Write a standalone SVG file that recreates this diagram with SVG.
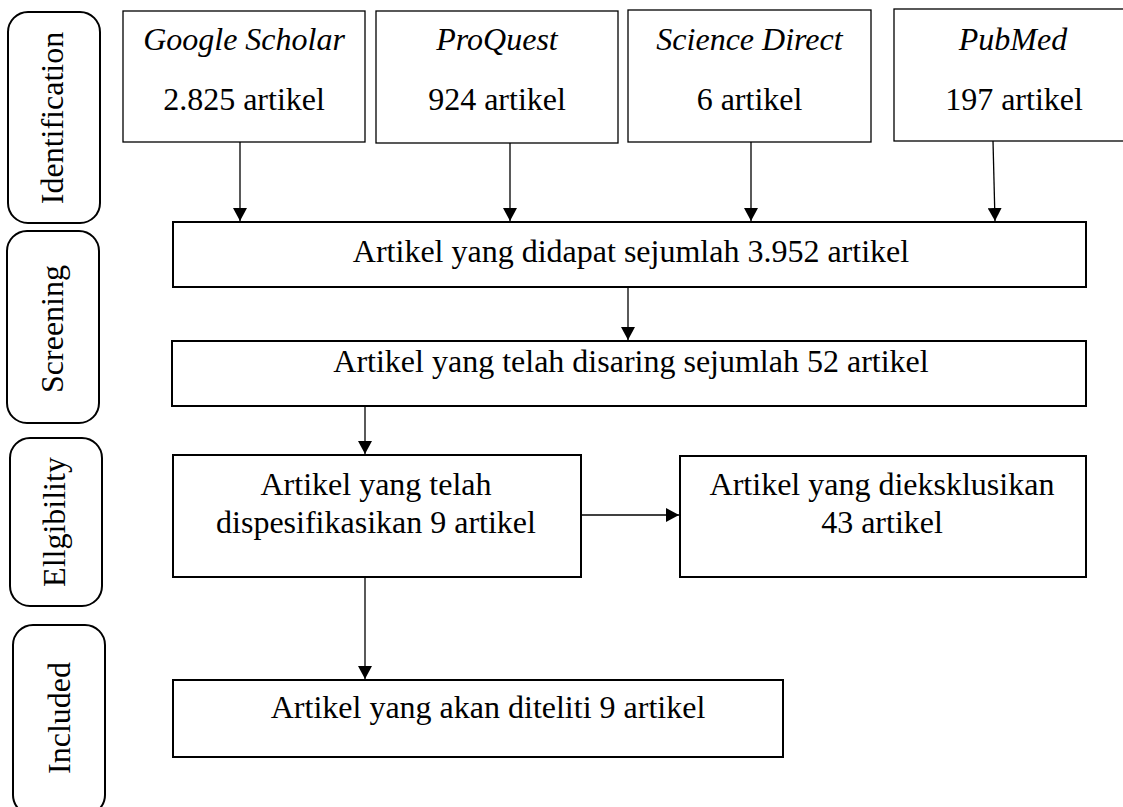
<svg xmlns="http://www.w3.org/2000/svg" width="1123" height="807" viewBox="0 0 1123 807" font-family="'Liberation Serif', 'Times New Roman', Tinos, 'DejaVu Serif', serif">
<style>
text{font-family:'Liberation Serif','Times New Roman',Tinos,'DejaVu Serif',serif;font-size:32px;fill:#000;text-anchor:middle}
.it{font-style:italic}
.src{fill:#fff;stroke:#000;stroke-width:1.3}
.box{fill:#fff;stroke:#000;stroke-width:2}
.phase{fill:#fff;stroke:#000;stroke-width:2}
.con{stroke:#000;stroke-width:1.3;fill:none;marker-end:url(#ah)}
</style>
<defs>
<marker id="ah" markerWidth="14" markerHeight="14" refX="13" refY="7" orient="auto" markerUnits="userSpaceOnUse">
<path d="M0,0 L13,7 L0,14 Z" fill="#000"/>
</marker>
</defs>
<rect width="1123" height="807" fill="#fff"/>

<g id="phase-identification">
<rect class="phase" x="8" y="12" width="92" height="211" rx="20"/>
<text transform="translate(63,118) rotate(-90)">Identification</text>
</g>
<g id="phase-screening">
<rect class="phase" x="7" y="231" width="92" height="192" rx="20"/>
<text transform="translate(63,329) rotate(-90)">Screening</text>
</g>
<g id="phase-eligibility">
<rect class="phase" x="10" y="438" width="92" height="168" rx="20"/>
<text transform="translate(65,522) rotate(-90)">Ellgibility</text>
</g>
<g id="phase-included">
<rect class="phase" x="13" y="625" width="92" height="190" rx="20"/>
<text transform="translate(70,718) rotate(-90)">Included</text>
</g>

<g id="src-google">
<rect class="src" x="123" y="11" width="242" height="131"/>
<text class="it" x="244" y="50">Google Scholar</text>
<text x="244" y="110">2.825 artikel</text>
</g>
<g id="src-proquest">
<rect class="src" x="376" y="11" width="242" height="132"/>
<text class="it" x="497" y="50">ProQuest</text>
<text x="497" y="110">924 artikel</text>
</g>
<g id="src-sciencedirect">
<rect class="src" x="628" y="10" width="243" height="132"/>
<text class="it" x="749.5" y="50">Science Direct</text>
<text x="749.5" y="110">6 artikel</text>
</g>
<g id="src-pubmed">
<rect class="src" x="894" y="9" width="236" height="132"/>
<text class="it" x="1013" y="50">PubMed</text>
<text x="1014" y="110">197 artikel</text>
</g>

<g id="found">
<rect class="box" x="173" y="222" width="913" height="65"/>
<text x="631" y="262">Artikel yang didapat sejumlah 3.952 artikel</text>
</g>
<g id="screened">
<rect class="box" x="172" y="341" width="914" height="65"/>
<text x="631" y="372">Artikel yang telah disaring sejumlah 52 artikel</text>
</g>
<g id="specified">
<rect class="box" x="173" y="455" width="408" height="122"/>
<text x="376" y="495">Artikel yang telah</text>
<text x="376" y="533">dispesifikasikan 9 artikel</text>
</g>
<g id="excluded">
<rect class="box" x="680" y="456" width="406" height="121"/>
<text x="882" y="495">Artikel yang dieksklusikan</text>
<text x="882" y="533">43 artikel</text>
</g>
<g id="included">
<rect class="box" x="173" y="680" width="610" height="77"/>
<text x="488" y="718">Artikel yang akan diteliti 9 artikel</text>
</g>

<g id="connectors">
<line class="con" x1="240" y1="142" x2="240" y2="221"/>
<line class="con" x1="510" y1="143" x2="510" y2="221"/>
<line class="con" x1="751" y1="142" x2="751" y2="221"/>
<line class="con" x1="993" y1="141" x2="995" y2="221"/>
<line class="con" x1="628" y1="287" x2="628" y2="340"/>
<line class="con" x1="365" y1="406" x2="365" y2="454"/>
<line class="con" x1="581" y1="515" x2="679" y2="515"/>
<line class="con" x1="365" y1="577" x2="365" y2="679"/>
</g>
</svg>
